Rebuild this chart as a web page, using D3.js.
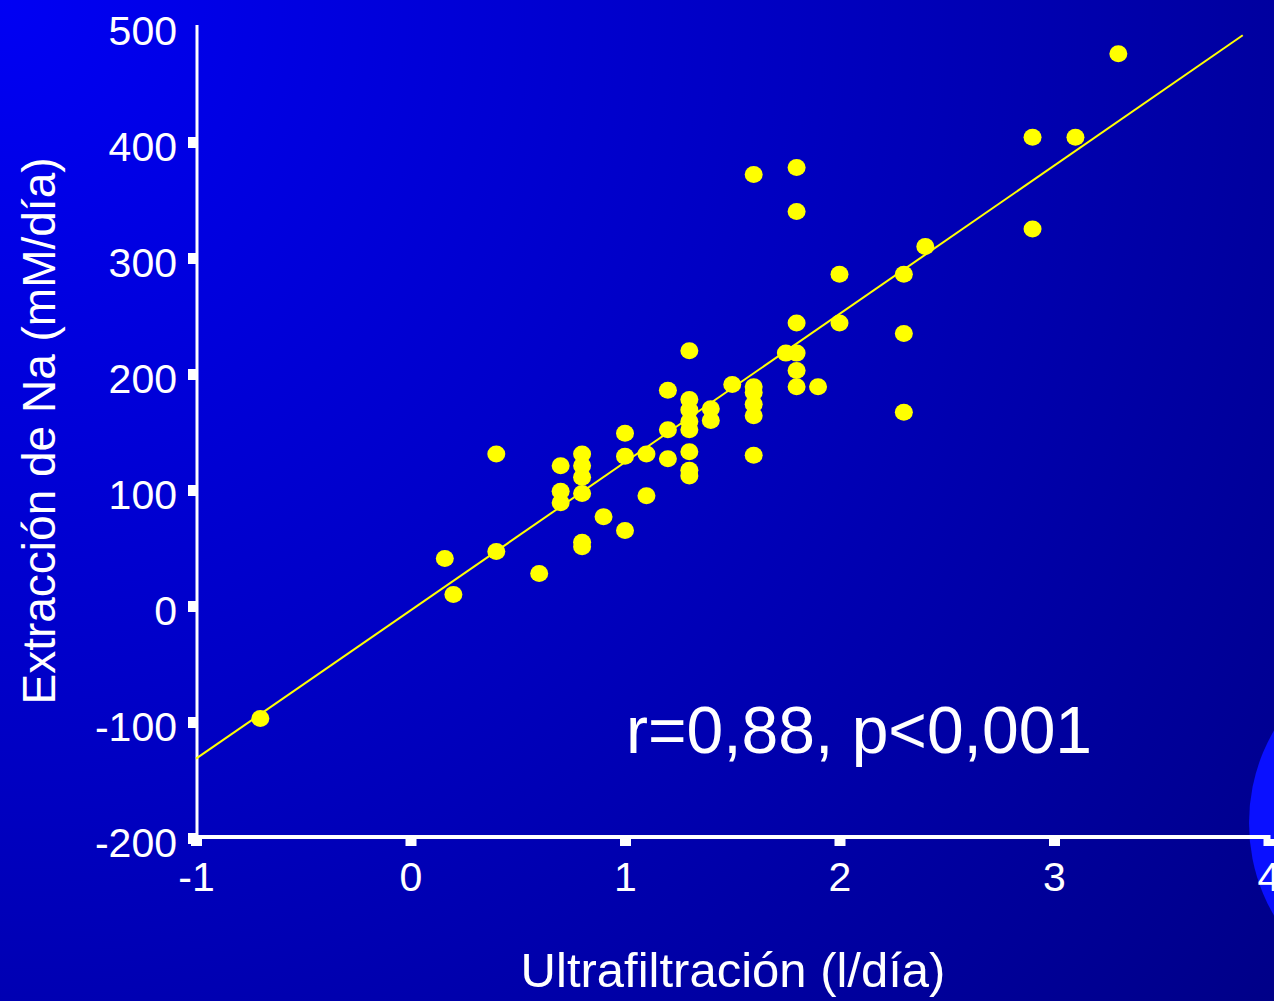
<!DOCTYPE html>
<html>
<head>
<meta charset="utf-8">
<script src="https://cdn.jsdelivr.net/npm/d3@7"></script>
<style>
  html, body { margin: 0; padding: 0; background: #000090; }
  svg { display: block; }
  text { font-family: "Liberation Sans", Arial, Helvetica, sans-serif; fill: #ffffff; }
</style>
</head>
<body>
<svg id="chart" width="1274" height="1001"></svg>
<script>
// Ultrafiltration (l/day) for each patient
const ultrafiltracion = [
  -0.7, 0.16, 0.2, 0.4, 0.4, 0.6,
  0.7, 0.7, 0.7,
  0.8, 0.8, 0.8, 0.8, 0.8, 0.8,
  0.9,
  1.0, 1.0, 1.0,
  1.1, 1.1,
  1.2, 1.2, 1.2,
  1.3, 1.3, 1.3, 1.3, 1.3, 1.3, 1.3, 1.3,
  1.4, 1.4,
  1.5,
  1.6, 1.6, 1.6, 1.6, 1.6, 1.6,
  1.75,
  1.8, 1.8, 1.8, 1.8, 1.8, 1.8,
  1.9,
  2.0, 2.0,
  2.3, 2.3, 2.3,
  2.4,
  2.9, 2.9,
  3.1,
  3.3
];

// Sodium extraction (mM/day) for the same patients
const extraccionNa = [
  -97, 41, 10, 47, 131, 28,
  121, 99, 89,
  131, 121, 111, 97, 55, 51,
  77,
  149, 129, 65,
  131, 95,
  186, 152, 127,
  220, 178, 169, 159, 152, 133, 117, 112,
  170, 160,
  191,
  189, 184, 174, 164, 130, 372,
  218,
  378, 340, 244, 218, 203, 189,
  189,
  286, 244,
  286, 235, 167,
  310,
  404, 325,
  404,
  476
];

// Regression line end points
const rectaX = [-1, 3.88];
const rectaY = [-131.6, 492];

const xTicks = [-1, 0, 1, 2, 3, 4];
const yTicks = [-200, -100, 0, 100, 200, 300, 400, 500];

const xTitle = "Ultrafiltración (l/día)";
const yTitle = "Extracción de Na (mM/día)";
const statsLabel = "r=0,88, p<0,001";

const svg = d3.select("#chart");
const W = 1274, H = 1001;

// Background: radial blue gradient from the top-left corner
const defs = svg.append("defs");
const grad = defs.append("radialGradient")
  .attr("id", "bg")
  .attr("gradientUnits", "userSpaceOnUse")
  .attr("cx", 0).attr("cy", 0).attr("r", 1620);
grad.append("stop").attr("offset", 0).attr("stop-color", "#0000f4");
grad.append("stop").attr("offset", 0.5).attr("stop-color", "#0000c0");
grad.append("stop").attr("offset", 0.78).attr("stop-color", "#0000a0");
grad.append("stop").attr("offset", 1).attr("stop-color", "#000088");

svg.append("rect").attr("width", W).attr("height", H).attr("fill", "url(#bg)");

// Decorative bright disc at the right edge
svg.append("circle")
  .attr("cx", 1433).attr("cy", 823).attr("r", 184)
  .attr("fill", "#0a10ff");

const x = d3.scaleLinear().domain([-1, 4]).range([196, 1268.5]);
const y = d3.scaleLinear().domain([-200, 500]).range([838, 26]);

// Plain hyphen for negative numbers
const fmt = d => String(d);

// Y axis
const yAxis = svg.append("g")
  .attr("transform", `translate(${x(-1) + 1},0)`)
  .call(d3.axisLeft(y).tickValues(yTicks).tickSize(9).tickPadding(20).tickFormat(fmt));
yAxis.select(".domain").remove();
yAxis.selectAll(".tick line")
  .attr("stroke", "#fff").attr("stroke-width", d => d === 500 ? 0 : 11);
yAxis.selectAll(".tick text")
  .attr("fill", "#fff").attr("font-size", 41).attr("dy", "0.46em")
  .attr("x", -20);
svg.append("line")
  .attr("x1", x(-1) + 1).attr("x2", x(-1) + 1)
  .attr("y1", y(500) - 1).attr("y2", y(-200) + 1)
  .attr("stroke", "#fff").attr("stroke-width", 3);

// X axis
const xAxis = svg.append("g")
  .attr("transform", `translate(0,${y(-200)})`)
  .call(d3.axisBottom(x).tickValues(xTicks).tickSize(8).tickPadding(15).tickFormat(fmt));
xAxis.select(".domain").remove();
xAxis.selectAll(".tick line")
  .attr("stroke", "#fff").attr("stroke-width", 11).attr("y1", 1);
xAxis.selectAll(".tick text")
  .attr("fill", "#fff").attr("font-size", 41).attr("dy", "0.72em");
svg.append("line")
  .attr("x1", x(-1)).attr("x2", x(4) + 2)
  .attr("y1", y(-200) - 1).attr("y2", y(-200) - 1)
  .attr("stroke", "#fff").attr("stroke-width", 4);

// Regression line
svg.append("line")
  .attr("x1", x(rectaX[0])).attr("y1", y(rectaY[0]))
  .attr("x2", x(rectaX[1])).attr("y2", y(rectaY[1]))
  .attr("stroke", "#ffff00").attr("stroke-width", 2);

// Patients
const puntos = ultrafiltracion.map((v, i) => ({ x: v, y: extraccionNa[i] }));
svg.append("g").selectAll("ellipse")
  .data(puntos)
  .join("ellipse")
  .attr("cx", d => x(d.x))
  .attr("cy", d => y(d.y))
  .attr("rx", 9).attr("ry", 8.5)
  .attr("fill", "#ffff00");

// Correlation annotation
svg.append("text")
  .attr("x", 626).attr("y", 753)
  .attr("font-size", 66)
  .text(statsLabel);

// Axis titles
svg.append("text")
  .attr("x", 733).attr("y", 987)
  .attr("text-anchor", "middle")
  .attr("font-size", 49)
  .text(xTitle);

svg.append("text")
  .attr("transform", "translate(55,431) rotate(-90)")
  .attr("text-anchor", "middle")
  .attr("font-size", 46)
  .text(yTitle);
</script>
</body>
</html>
